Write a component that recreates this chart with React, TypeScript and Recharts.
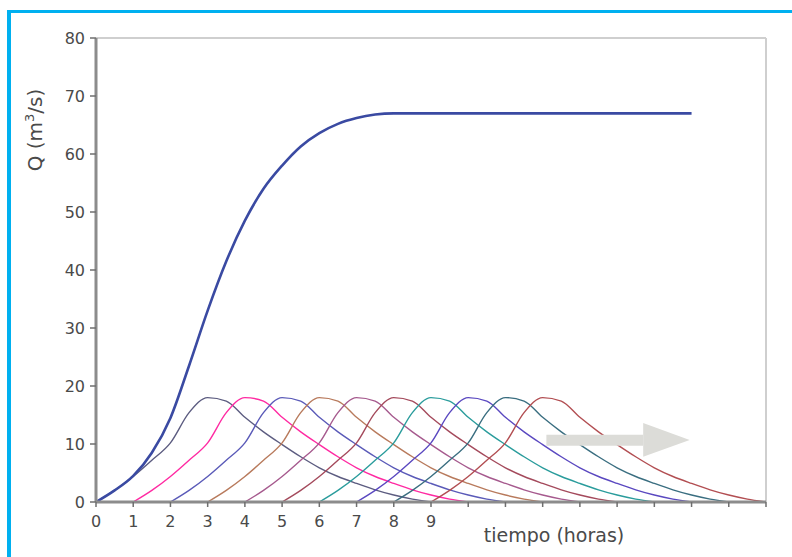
import { LineChart, Line, XAxis, YAxis, ReferenceLine, ReferenceArea, Label } from 'recharts';

// unit hydrograph ordinates, every half hour from its start (m3/s)
const uhOrdinates = [0, 2.0, 4.4, 7.2, 10.2, 15.4, 18.0, 17.4, 14.6, 12.1, 9.9, 7.8, 5.9, 4.4, 3.2, 2.1, 1.2, 0.5, 0];
const uhStarts = [0, 1, 2, 3, 4, 5, 6, 7, 8, 9];
const uhColors = ['#5c5c80', '#ff2aa2', '#5a5ab8', '#b87a5c', '#a65a8e', '#a44a5c', '#2a9c9c', '#5a48c0', '#3a6e80', '#b24e52'];

// S-curve, every half hour from t = 0 to t = 16
const sCurve = [
  0, 2.0, 4.5, 8.5, 14.5, 23.5, 33.0, 41.5, 48.5, 54.0, 58.0, 61.3, 63.6, 65.2, 66.2, 66.8, 67.0,
  67, 67, 67, 67, 67, 67, 67, 67, 67, 67, 67, 67, 67, 67, 67, 67,
];

const xTicks = [0, 1, 2, 3, 4, 5, 6, 7, 8, 9, 10, 11, 12, 13, 14, 15, 16, 17, 18];
const yTicks = [0, 10, 20, 30, 40, 50, 60, 70, 80];
const lastLabelledHour = 9;

const arrowShaftX = [12.1, 14.7];
const arrowShaftY = [9.7, 11.6];
const arrowHeadX = [14.7, 15.95];
const arrowHeadY = [7.8, 13.6];

const font = '"DejaVu Sans", Arial, sans-serif';
const textColor = '#4a4a4a';

const rows = Array.from({ length: 37 }, (_, i) => {
  const t = i / 2;
  const row: Record<string, number | undefined> = { t, s: sCurve[i] };
  uhStarts.forEach((start, k) => {
    const j = i - start * 2;
    row['u' + k] = j >= 0 && j < uhOrdinates.length ? uhOrdinates[j] : undefined;
  });
  return row;
});

const ArrowHead = (props: any) => {
  const { x, y, width, height } = props;
  return <polygon points={`${x},${y} ${x},${y + height} ${x + width},${y + height / 2}`} fill="#dcdcd8" />;
};

export default function App() {
  return (
    <div style={{ position: 'absolute', left: 0, top: 0, width: 792, height: 557, overflow: 'hidden', background: '#fff' }}>
      <div style={{ position: 'absolute', left: 7, top: 10, width: 900, height: 700, borderLeft: '4px solid #00b0f0', borderTop: '3px solid #00b0f0' }} />
      <div style={{ position: 'absolute', left: 0, top: 0 }}>
        <LineChart width={792} height={557} data={rows} margin={{ top: 38, right: 26, bottom: 0, left: 0 }}>
          <XAxis
            dataKey="t"
            type="number"
            domain={[0, 18]}
            ticks={xTicks}
            interval={0}
            tickFormatter={(v: number) => (v <= lastLabelledHour ? String(v) : '')}
            height={55}
            tickSize={5}
            tickMargin={9}
            axisLine={{ stroke: '#8c8c8c', strokeWidth: 3 }}
            tickLine={{ stroke: '#6e6e6e', strokeWidth: 1.5 }}
            tick={{ fill: textColor, fontSize: 16, fontFamily: font }}
          >
            <Label
              content={() => (
                <text x={554} y={542} textAnchor="middle" fill={textColor} fontSize={19} fontFamily={font}>
                  tiempo (horas)
                </text>
              )}
            />
          </XAxis>
          <YAxis
            type="number"
            domain={[0, 80]}
            ticks={yTicks}
            interval={0}
            width={96}
            tickSize={6}
            tickMargin={5}
            axisLine={{ stroke: '#8c8c8c', strokeWidth: 3 }}
            tickLine={{ stroke: '#6e6e6e', strokeWidth: 1.5 }}
            tick={{ fill: textColor, fontSize: 16, fontFamily: font }}
          >
            <Label
              content={() => (
                <text x={42} y={130} transform="rotate(-90 42 130)" textAnchor="middle" fill={textColor} fontSize={20} fontFamily={font}>
                  Q (m<tspan dy={-8} fontSize={13}>3</tspan>
                  <tspan dy={8}>/s)</tspan>
                </text>
              )}
            />
          </YAxis>
          <ReferenceLine y={80} stroke="#cfcfcf" strokeWidth={2} />
          <ReferenceLine x={18} stroke="#cfcfcf" strokeWidth={2} />
          {uhStarts.map((start, k) => (
            <Line
              key={start}
              dataKey={'u' + k}
              type="monotone"
              stroke={uhColors[k]}
              strokeWidth={1.4}
              dot={false}
              isAnimationActive={false}
            />
          ))}
          <Line dataKey="s" type="monotone" stroke="#3a4aa2" strokeWidth={2.6} dot={false} isAnimationActive={false} />
          <ReferenceArea zIndex={1000} x1={arrowShaftX[0]} x2={arrowShaftX[1]} y1={arrowShaftY[0]} y2={arrowShaftY[1]} fill="#dcdcd8" fillOpacity={1} stroke="none" />
          <ReferenceArea zIndex={1000} x1={arrowHeadX[0]} x2={arrowHeadX[1]} y1={arrowHeadY[0]} y2={arrowHeadY[1]} shape={ArrowHead} />
        </LineChart>
      </div>
    </div>
  );
}
